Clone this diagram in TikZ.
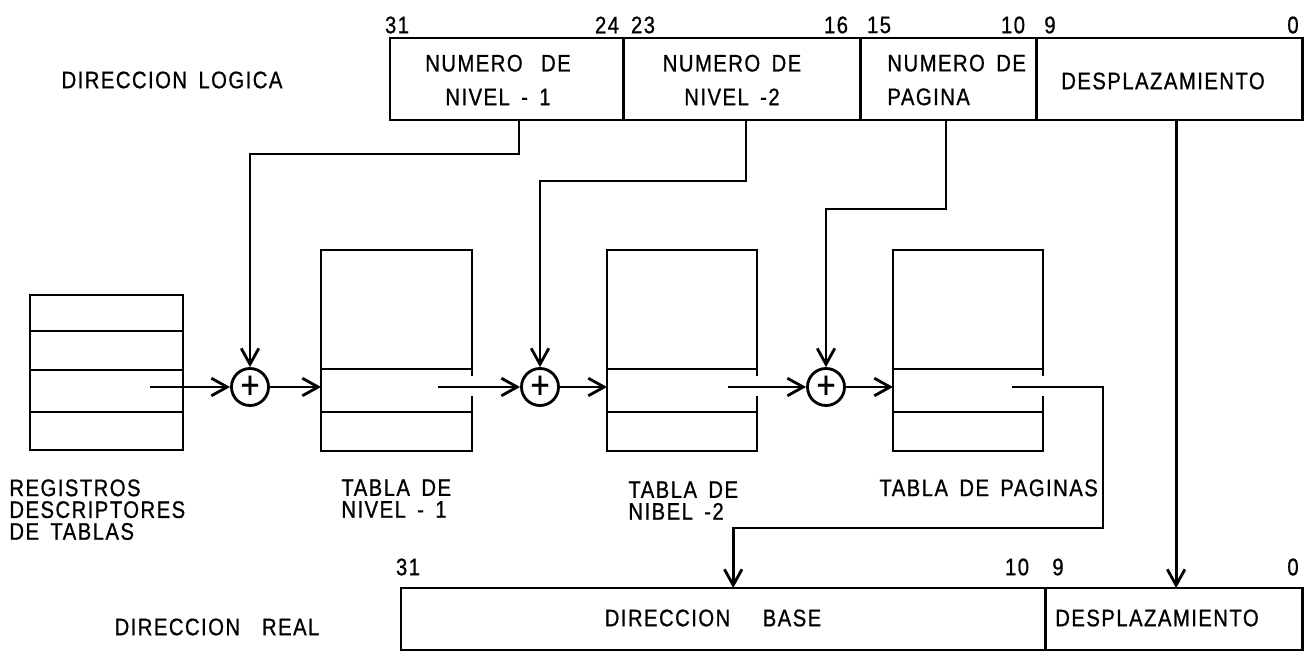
\documentclass[tikz,border=0pt]{standalone}
\usepackage{fontspec}
\setmainfont{Liberation Sans}[FakeStretch=0.85,LetterSpace=6,WordSpace=1.6,FakeBold=0.8]
\usetikzlibrary{arrows.meta}

\tikzset{
    caja/.style={draw, rectangle, inner sep=0pt, outer sep=0pt},
    texto/.style={inner sep=0pt, font=\fontsize{6.8}{6.2}\selectfont},
    campo/.style={inner sep=0pt, align=center, font=\fontsize{6.8}{9.6}\selectfont},
    suma/.style={draw, circle, minimum size=0.37cm, inner sep=0pt, font=\fontsize{11}{11}\selectfont},
    flecha/.style={-{Straight Barb[length=4.5pt,width=5pt]}},
}

\begin{document}
\begin{tikzpicture}[x=0.01cm, y=-0.01cm, line width=0.8pt]
    \useasboundingbox (0,0) rectangle (1304,652);
    % direccion logica
    \node[texto] (tlog) at (172,80) {DIRECCION LOGICA};
    \node[caja, anchor=north west, minimum width=2.33cm, minimum height=0.82cm] (niv1) at (390,38) {};
    \node[caja, anchor=north west, minimum width=2.37cm, minimum height=0.82cm] (niv2) at (623,38) {};
    \node[caja, anchor=north west, minimum width=1.76cm, minimum height=0.82cm] (pag) at (860,38) {};
    \node[caja, anchor=north west, minimum width=2.66cm, minimum height=0.82cm] (desp) at (1036,38) {};
    \node[campo] (tniv1) at (498,80) {NUMERO\hspace{2pt} DE\\NIVEL - 1};
    \node[campo] (tniv2) at (732,80) {NUMERO DE\\NIVEL -2};
    \node[campo, align=left, anchor=west] (tpag) at (886,80) {NUMERO DE\\PAGINA};
    \node[texto] (tdesp) at (1163,81) {DESPLAZAMIENTO};
    \node[texto] (b31) at (397,25) {31};
    \node[texto] (b24) at (607,25) {24};
    \node[texto] (b23) at (643,25) {23};
    \node[texto] (b16) at (836,25) {16};
    \node[texto] (b15) at (879,25) {15};
    \node[texto] (b10) at (1013,25) {10};
    \node[texto] (b9) at (1050,25) {9};
    \node[texto] (b0) at (1293,25) {0};
    % registros descriptores
    \draw (30,295) rectangle (183,450);
    \draw (30,331) -- (183,331) (30,370) -- (183,370) (30,412) -- (183,412);
    \coordinate (regout) at (150,387);
    \node[texto, align=left, anchor=north west] (treg) at (8,478) {REGISTROS\\DESCRIPTORES\\DE TABLAS};
    % tabla de nivel-1
    \draw (472,376) |- (321,250) |- (472,451) -- (472,396);
    \draw (321,369) -- (472,369) (321,412) -- (472,412);
    \coordinate (tab1in) at (321,387);
    \coordinate (tab1out) at (438,387);
    \node[texto, align=left, anchor=north west] (ttab1) at (340,478) {TABLA DE\\NIVEL - 1};
    % tabla de nivel-2
    \draw (757,376) |- (607,250) |- (757,451) -- (757,396);
    \draw (607,369) -- (757,369) (607,412) -- (757,412);
    \coordinate (tab2in) at (607,387);
    \coordinate (tab2out) at (728,387);
    \node[texto, align=left, anchor=north west] (ttab2) at (627,480) {TABLA DE\\NIBEL -2};
    % tabla de paginas
    \draw (1043,376) |- (893,250) |- (1043,451) -- (1043,396);
    \draw (893,369) -- (1043,369) (893,412) -- (1043,412);
    \coordinate (tab3in) at (893,387);
    \coordinate (tab3out) at (1012,387);
    \node[texto, align=left, anchor=north west] (ttab3) at (878,478) {TABLA DE PAGINAS};
    % sumadores
    \node[suma] (sum1) at (250,387) {+};
    \node[suma] (sum2) at (540,387) {+};
    \node[suma] (sum3) at (826,387) {+};
    % direccion real
    \node[texto] (treal) at (217,627) {DIRECCION\hspace{3pt} REAL};
    \node[caja, anchor=north west, minimum width=6.44cm, minimum height=0.62cm] (base) at (401,588) {};
    \node[caja, anchor=north west, minimum width=2.57cm, minimum height=0.62cm] (despr) at (1045,588) {};
    \node[texto] (tbase) at (713,618) {DIRECCION\hspace{6pt} BASE};
    \node[texto] (tdespr) at (1157,618) {DESPLAZAMIENTO};
    \node[texto] (c31) at (408,567) {31};
    \node[texto] (c10) at (1017,567) {10};
    \node[texto] (c9) at (1058,567) {9};
    \node[texto] (c0) at (1293,567) {0};
    % conexiones
    \draw[flecha] (regout) -- (sum1);
    \draw[flecha] (sum1) -- (tab1in);
    \draw[flecha] (tab1out) -- (sum2);
    \draw[flecha] (sum2) -- (tab2in);
    \draw[flecha] (tab2out) -- (sum3);
    \draw[flecha] (sum3) -- (tab3in);
    \draw[flecha] ([xshift=0.125cm]niv1.south) -- ++(0,34) -| (sum1);
    \draw[flecha] ([xshift=0.045cm]niv2.south) -- ++(0,61) -| (sum2);
    \draw[flecha] ([xshift=-0.02cm]pag.south) -- ++(0,89) -| (sum3);
    \draw[flecha] ([xshift=0.07cm]desp.south) -- ++(0,468);
    \draw[flecha] (tab3out) -- ++(91,0) -- ++(0,141) -| ([xshift=0.1cm]base.north);
\end{tikzpicture}
\end{document}
